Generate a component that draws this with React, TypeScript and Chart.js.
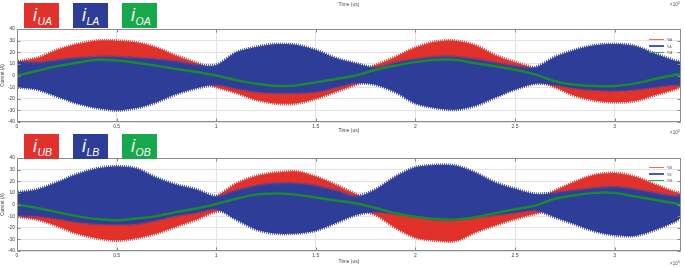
import React, { useEffect, useRef } from 'react';
import { Chart, registerables } from 'chart.js';

Chart.register(...registerables);

// time axis, in units of 1e4 us
const timeE4 = [0, 0.1, 0.2, 0.3, 0.4, 0.5, 0.6, 0.7, 0.8, 0.9, 1.0, 1.1, 1.2, 1.3, 1.4, 1.5, 1.6, 1.7, 1.8, 1.9, 2.0, 2.1, 2.2, 2.3, 2.4, 2.5, 2.6, 2.7, 2.8, 2.9, 3.0, 3.1, 3.2, 3.3, 3.333];
const xTickStep = 0.5;
const yTicks = [-40, 40, 10];

// ---- Phase A (upper panel) ----
const iUA_high = [12, 15, 22, 27, 30, 30, 28.5, 24, 17, 11, 5, 0, -3, -4, -4, -2, 0, 3, 9, 16, 24, 29, 30, 26, 17.5, 11.5, 6, -2, -5, -5, -5, -4, -2, 2, 3];
const iUA_low = [-8, -4, 0, 3, 5, 5, 4, 2, -1, -5, -10, -15, -21, -24, -24, -20, -14, -8, -3, 2, 4, 5, 5, 4, 2, 0, -4, -10, -17.5, -21.5, -23, -22, -17, -12, -10];
const iLA_high = [12, 11, 13, 15, 16, 16, 15, 14, 12, 9, 9, 20, 24.5, 27, 26.5, 22, 15, 10.5, 7, 11, 14, 16, 16, 14, 11, 8, 7, 16, 22, 26, 27, 25.5, 19, 13, 12];
const iLA_low = [-10, -12, -18, -24, -28, -30, -28, -23, -16, -11, -8, -11, -14, -15, -15, -14, -10, -6.5, -8, -14.5, -24, -28, -29.5, -26, -19, -12, -7, -8, -11, -12.5, -13, -12, -10, -8, -8];
const iOA = [0, 4, 8, 11, 13.5, 13, 11, 8.5, 5.5, 3, 0, -4, -7, -9, -8.5, -6, -3, 0, 5, 8.5, 11.5, 13.5, 13.5, 10.5, 8, 5, 1, -5, -8, -9, -9, -7, -3, 0.5, 1];

// ---- Phase B (lower panel) ----
const iUB_high = [5, 2, -2, -5, -7, -7, -6, -4, -1, 2, 7, 18, 24.5, 27.5, 28.5, 24, 17, 9, 2, -3, -6, -8, -8, -7, -3, 0, 4, 12, 19.5, 25.5, 27, 24, 17.5, 11, 10];
const iUB_low = [-10.5, -13, -18.5, -25, -29, -31, -29, -25, -19, -13, -6, -5, -6, -5, -4, -3, -3, -4, -9, -20, -28.5, -31, -31.5, -24, -18, -12.5, -8, -4, -2, 0, 1, 0, -2, -4, -4];
const iLB_high = [10.5, 13, 19, 26, 31, 33, 31, 23, 17, 13, 7, 12, 16, 18, 18, 16, 12, 7, 13, 24, 32, 34, 33.5, 27.5, 19, 13.5, 9, 10, 12, 14, 15, 13, 10, 7, 8];
const iLB_low = [-9.5, -10, -12, -15, -16.5, -17, -16.5, -13.5, -9.5, -7, -4, -13, -21.5, -25, -25, -22.5, -16, -9, -6.5, -8, -10, -13, -13, -11, -9, -7, -5, -11, -17, -23, -26.5, -27, -22, -15, -11.3];
const iOB = [0, -3, -6.5, -10, -12.5, -13.5, -12, -10, -6.5, -3.5, 0.5, 5, 8.5, 9.5, 8.5, 6, 3.5, 1, -3, -7.5, -10.5, -12.5, -13, -11, -7.5, -4, -1, 5, 8, 10, 10, 7, 4, 1, 0];

const xMax = 3.333;

const RED = '#e2302b';
const BLUE = '#2e3d98';
const GREEN_LINE = '#1b8a2e';
const RED_BOX = '#e2302b';
const BLUE_BOX = '#2e3d98';
const GREEN_BOX = '#17a84c';
const FONT = '"Liberation Sans", Arial, Helvetica, sans-serif';

function stripe(color: string): CanvasPattern | string {
  const c = document.createElement('canvas');
  c.width = 2;
  c.height = 1;
  const g = c.getContext('2d');
  if (!g) return color;
  g.fillStyle = color;
  g.fillRect(0, 0, 1, 1);
  return g.createPattern(c, 'repeat') || color;
}

const boxPlugin = {
  id: 'boxTicks',
  afterDatasetsDraw(chart: any) {
    const { ctx, chartArea: a, scales } = chart;
    ctx.save();
    ctx.strokeStyle = '#8a8a8a';
    ctx.lineWidth = 1;
    const l = Math.round(a.left) + 0.5;
    const t = Math.round(a.top) + 0.5;
    const r = Math.round(a.right) - 0.5;
    const b = Math.round(a.bottom) - 0.5;
    ctx.strokeRect(l, t, r - l, b - t);
    ctx.beginPath();
    for (const tk of scales.x.ticks) {
      const px = Math.round(scales.x.getPixelForValue(tk.value)) + 0.5;
      ctx.moveTo(px, t);
      ctx.lineTo(px, t + 3);
      ctx.moveTo(px, b);
      ctx.lineTo(px, b - 3);
    }
    for (const tk of scales.y.ticks) {
      const py = Math.round(scales.y.getPixelForValue(tk.value)) + 0.5;
      ctx.moveTo(l, py);
      ctx.lineTo(l + 3, py);
      ctx.moveTo(r, py);
      ctx.lineTo(r - 3, py);
    }
    ctx.stroke();
    ctx.restore();
  },
};

type Series = { uHigh: number[]; uLow: number[]; lHigh: number[]; lLow: number[]; out: number[] };

function pts(ys: number[]) {
  return timeE4.map((x, i) => ({ x, y: ys[i] }));
}

function buildConfig(s: Series, padTop: number, xHeight: number, titleBottom: number): any {
  const redFringe = stripe('rgba(228,60,52,0.85)');
  const blueFringe = stripe('rgba(55,70,165,0.85)');
  const common = { pointRadius: 0, tension: 0.3 };
  return {
    type: 'line',
    data: {
      datasets: [
        { ...common, data: pts(s.uHigh), fill: 1, backgroundColor: RED, borderColor: redFringe, borderWidth: 3, order: 2 },
        { ...common, data: pts(s.uLow), fill: false, borderColor: redFringe, borderWidth: 3, order: 2 },
        { ...common, data: pts(s.lHigh), fill: 3, backgroundColor: BLUE, borderColor: blueFringe, borderWidth: 3, order: 1 },
        { ...common, data: pts(s.lLow), fill: false, borderColor: blueFringe, borderWidth: 3, order: 1 },
        { ...common, data: pts(s.out), fill: false, borderColor: GREEN_LINE, borderWidth: 2.5, order: 0 },
      ],
    },
    options: {
      animation: false,
      responsive: false,
      maintainAspectRatio: false,
      events: [],
      layout: { padding: { top: padTop, right: 4, left: 0, bottom: 0 } },
      plugins: { legend: { display: false }, tooltip: { enabled: false } },
      scales: {
        x: {
          type: 'linear',
          min: 0,
          max: xMax,
          ticks: {
            stepSize: xTickStep,
            includeBounds: false,
            autoSkip: false,
            maxRotation: 0,
            padding: 2,
            color: '#444',
            font: { size: 5, family: FONT },
            callback: (v: number) => String(v),
          },
          grid: { color: '#e3e3e3', drawTicks: false },
          border: { display: false },
          title: { display: true, text: 'Time (us)', color: '#444', font: { size: 5, family: FONT }, padding: { top: 0, bottom: titleBottom } },
          afterFit: (sc: any) => { sc.height = xHeight; },
        },
        y: {
          min: yTicks[0],
          max: yTicks[1],
          ticks: { stepSize: yTicks[2], padding: 2, color: '#444', font: { size: 5, family: FONT } },
          grid: { color: '#e3e3e3', drawTicks: false },
          border: { display: false },
          title: { display: true, text: 'Current (A)', color: '#444', font: { size: 4.5, family: FONT }, padding: 0 },
          afterFit: (sc: any) => { sc.width = 17; },
        },
      },
    },
    plugins: [boxPlugin],
  };
}

function Panel(props: { top: number; height: number; padTop: number; xHeight: number; titleBottom: number; s: Series }) {
  const ref = useRef<HTMLCanvasElement | null>(null);
  useEffect(() => {
    if (!ref.current) return;
    const chart = new Chart(ref.current, buildConfig(props.s, props.padTop, props.xHeight, props.titleBottom));
    return () => chart.destroy();
  }, []);
  return (
    <canvas
      ref={ref}
      width={685}
      height={props.height}
      style={{ position: 'absolute', left: 0, top: props.top, width: 685, height: props.height, display: 'block' }}
    />
  );
}

function LabelBox(props: { left: number; top: number; bg: string; sub: string }) {
  return (
    <div style={{ position: 'absolute', left: props.left, top: props.top, width: 35, height: 25, background: props.bg, zIndex: 3, fontFamily: FONT, fontStyle: 'italic', color: '#fff' }}>
      <span style={{ position: 'absolute', left: 9, top: 3, fontSize: 18, lineHeight: '18px' }}>i</span>
      <span style={{ position: 'absolute', left: 13.5, top: 13, fontSize: 10.5, lineHeight: '11px' }}>{props.sub}</span>
    </div>
  );
}

function Times10(props: { left: number; top: number }) {
  return (
    <div style={{ position: 'absolute', left: props.left, top: props.top, fontFamily: FONT, fontSize: 4.5, color: '#555', lineHeight: '5px', whiteSpace: 'nowrap', zIndex: 3 }}>
      ×10<span style={{ fontSize: 3.5, verticalAlign: 'top', position: 'relative', top: -1.5 }}>4</span>
    </div>
  );
}

function Legend(props: { top: number; names: string[] }) {
  const colors = ['#ee6a62', '#4a58b8', '#3aa64e'];
  return (
    <div style={{ position: 'absolute', left: 646, top: props.top, width: 34, height: 20, zIndex: 3, fontFamily: FONT }}>
      {props.names.map((n, i) => (
        <div key={n} style={{ position: 'absolute', left: 0, top: i * 6.6, height: 6, width: 34 }}>
          <div style={{ position: 'absolute', left: 3, top: 2.5, width: 15, height: 1.5, background: colors[i] }} />
          <div style={{ position: 'absolute', left: 21, top: 0, fontSize: 4, lineHeight: '5px', color: '#555', whiteSpace: 'nowrap' }}>
            <i>i</i><span style={{ fontSize: 3, position: 'relative', top: 1 }}>{n}</span>
          </div>
        </div>
      ))}
    </div>
  );
}

export default function App() {
  const sA: Series = { uHigh: iUA_high, uLow: iUA_low, lHigh: iLA_high, lLow: iLA_low, out: iOA };
  const sB: Series = { uHigh: iUB_high, uLow: iUB_low, lHigh: iLB_high, lLow: iLB_low, out: iOB };
  return (
    <div style={{ position: 'absolute', left: 0, top: 0, width: 685, height: 268, background: '#fff', overflow: 'hidden' }}>
      <Panel top={0} height={134} padTop={29} xHeight={12} titleBottom={0} s={sA} />
      <Panel top={134} height={134} padTop={24} xHeight={17} titleBottom={3} s={sB} />
      <div style={{ position: 'absolute', left: 320, top: 1, width: 58, textAlign: 'center', fontFamily: FONT, fontSize: 5, lineHeight: '6px', color: '#555' }}>Time (us)</div>
      <Times10 left={670} top={2} />
      <Times10 left={670} top={130} />
      <Times10 left={670} top={261} />
      <LabelBox left={24} top={3} bg={RED_BOX} sub="UA" />
      <LabelBox left={73} top={3} bg={BLUE_BOX} sub="LA" />
      <LabelBox left={122} top={3} bg={GREEN_BOX} sub="OA" />
      <LabelBox left={24} top={134} bg={RED_BOX} sub="UB" />
      <LabelBox left={73} top={134} bg={BLUE_BOX} sub="LB" />
      <LabelBox left={122} top={134} bg={GREEN_BOX} sub="OB" />
      <Legend top={36} names={['UA', 'LA', 'OA']} />
      <Legend top={164} names={['UB', 'LB', 'OB']} />
    </div>
  );
}
